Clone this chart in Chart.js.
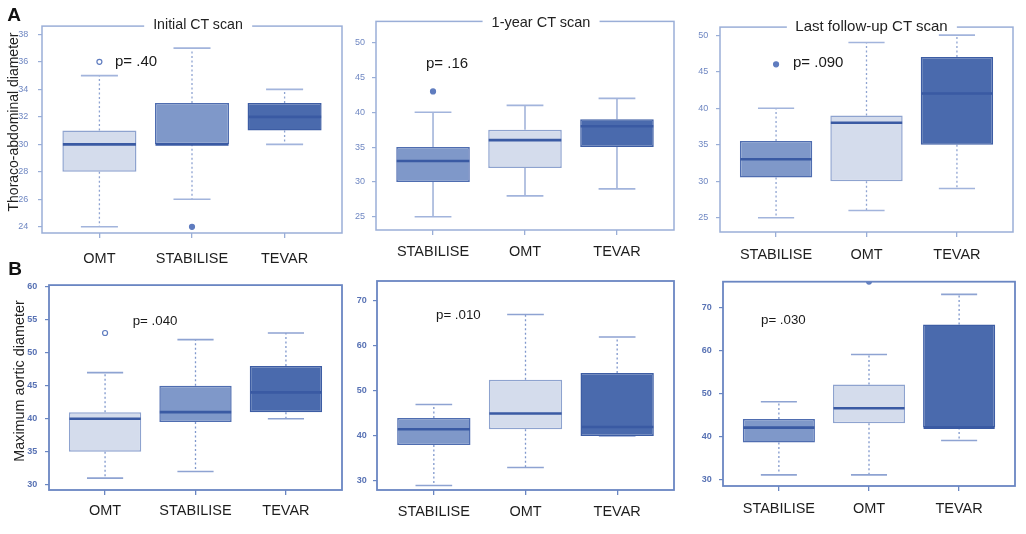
<!DOCTYPE html>
<html>
<head>
<meta charset="utf-8">
<script src="https://cdn.jsdelivr.net/npm/chart.js@4.4.1/dist/chart.umd.min.js"></script>
<style>
html,body{margin:0;padding:0;background:#fff;}
body{width:1026px;height:534px;position:relative;overflow:hidden;font-family:"Liberation Sans",Arial,sans-serif;}
canvas{position:absolute;z-index:1;}
.t{position:absolute;line-height:1;white-space:nowrap;z-index:2;}
.title{transform:translate(-50%,-50%);background:#fff;padding:0 9px;color:#222;}
.p{transform:translate(0,-50%);color:#1a1a1a;}
.lab{transform:translate(-50%,-50%);font-weight:bold;font-size:19px;color:#111;}
.ytitle{transform:translate(-50%,-50%) rotate(-90deg);color:#222;}
</style>
</head>
<body>
<script>
// ---------------- DATA ----------------
const P1_CATS  = ['OMT', 'STABILISE', 'TEVAR'];
const P1_LOW   = [24, 26, 30];
const P1_Q1    = [28, 30, 31];
const P1_MED   = [30, 30, 32];
const P1_Q3    = [31, 33, 33];
const P1_HIGH  = [35, 37, 34];
const P1_OUT   = [[36], [24], []];
const P1_TICKS = [24, 26, 28, 30, 32, 34, 36, 38];

const P2_CATS  = ['STABILISE', 'OMT', 'TEVAR'];
const P2_LOW   = [25, 28, 29];
const P2_Q1    = [30, 32, 35];
const P2_MED   = [33, 36, 38];
const P2_Q3    = [35, 37.5, 39];
const P2_HIGH  = [40, 41, 42];
const P2_OUT   = [[43], [], []];
const P2_TICKS = [25, 30, 35, 40, 45, 50];

const P3_CATS  = ['STABILISE', 'OMT', 'TEVAR'];
const P3_LOW   = [25, 26, 29];
const P3_Q1    = [30.5, 30, 35];
const P3_MED   = [33, 38, 42];
const P3_Q3    = [35.5, 39, 47];
const P3_HIGH  = [40, 49, 50];
const P3_OUT   = [[46], [], []];
const P3_TICKS = [25, 30, 35, 40, 45, 50];

const P4_CATS  = ['OMT', 'STABILISE', 'TEVAR'];
const P4_LOW   = [31, 32, 40];
const P4_Q1    = [35, 39.5, 41];
const P4_MED   = [40, 41, 44];
const P4_Q3    = [41, 45, 48];
const P4_HIGH  = [47, 52, 53];
const P4_OUT   = [[53], [], []];
const P4_TICKS = [30, 35, 40, 45, 50, 55, 60];

const P5_CATS  = ['STABILISE', 'OMT', 'TEVAR'];
const P5_LOW   = [29, 33, 40];
const P5_Q1    = [38, 41.5, 40];
const P5_MED   = [41.5, 45, 42];
const P5_Q3    = [44, 52.5, 54];
const P5_HIGH  = [47, 67, 62];
const P5_OUT   = [[], [], []];
const P5_TICKS = [30, 40, 50, 60, 70];

const P6_CATS  = ['STABILISE', 'OMT', 'TEVAR'];
const P6_LOW   = [31, 31, 39];
const P6_Q1    = [38.5, 43, 42];
const P6_MED   = [42, 46.5, 42];
const P6_Q3    = [44, 52, 66];
const P6_HIGH  = [48, 59, 73];
const P6_OUT   = [[], [76], []];
const P6_TICKS = [30, 40, 50, 60, 70];

const TITLES  = ['Initial CT scan', '1-year CT scan', 'Last follow-up CT scan'];
const PVALUES = ['p= .40', 'p= .16', 'p= .090', 'p= .040', 'p= .010', 'p= .030'];
const YTITLES = ['Thoraco-abdominal diameter', 'Maximum aortic diameter'];
const LETTERS = ['A', 'B'];

// ---------------- STYLE / LAYOUT ----------------
const FONT = '"Liberation Sans", Arial, sans-serif';
const FILL = {OMT: '#d4dcec', STABILISE: '#7f98c9', TEVAR: '#4a6aad'};
const EDGE = {OMT: '#8ea3cf', STABILISE: '#4f6db0', TEVAR: '#3d5da4'};
const MEDIAN_COLOR = '#3a5aa3';

const panels = [
  {cats:P1_CATS, low:P1_LOW, q1:P1_Q1, med:P1_MED, q3:P1_Q3, high:P1_HIGH, out:P1_OUT, ticks:P1_TICKS,
   L:42, T:23, R:342, B:233, yMin:23.55, yMax:38.6, dashed:true, xPad:11.8, yPad:9.7, hollow:[true,false,false], row:0},
  {cats:P2_CATS, low:P2_LOW, q1:P2_Q1, med:P2_MED, q3:P2_Q3, high:P2_HIGH, out:P2_OUT, ticks:P2_TICKS,
   L:376, T:21, R:674, B:230, yMin:23.1, yMax:53.05, dashed:false, xPad:8.3, yPad:7, hollow:[false,false,false], row:0},
  {cats:P3_CATS, low:P3_LOW, q1:P3_Q1, med:P3_MED, q3:P3_Q3, high:P3_HIGH, out:P3_OUT, ticks:P3_TICKS,
   L:720, T:26, R:1013, B:232, yMin:23.05, yMax:51.1, dashed:true, xPad:9, yPad:7.7, hollow:[false,false,false], row:0},
  {cats:P4_CATS, low:P4_LOW, q1:P4_Q1, med:P4_MED, q3:P4_Q3, high:P4_HIGH, out:P4_OUT, ticks:P4_TICKS,
   L:49, T:284, R:342, B:490, yMin:29.2, yMax:60.26, dashed:true, xPad:7.3, yPad:7.7, hollow:[true,false,false], row:1},
  {cats:P5_CATS, low:P5_LOW, q1:P5_Q1, med:P5_MED, q3:P5_Q3, high:P5_HIGH, out:P5_OUT, ticks:P5_TICKS,
   L:377, T:281, R:674, B:490, yMin:28, yMax:74.44, dashed:true, xPad:7.8, yPad:6.3, hollow:[false,false,false], row:1},
  {cats:P6_CATS, low:P6_LOW, q1:P6_Q1, med:P6_MED, q3:P6_Q3, high:P6_HIGH, out:P6_OUT, ticks:P6_TICKS,
   L:723, T:281, R:1015, B:486, yMin:28.4, yMax:75.96, dashed:true, xPad:9.3, yPad:7.3, hollow:[false,false,false], row:1}
];

const ROWSTYLE = [
  {frame:'#9aaed7', frameW:1.5, tickCol:'#9aaed7', tickLabel:'#6f87c2', tickWeight:'normal', whisker:'#8ea3d1', cap:'#a2b4dc'},
  {frame:'#6a86c2', frameW:1.8, tickCol:'#6a86c2', tickLabel:'#5872b4', tickWeight:'bold', whisker:'#7f97cc', cap:'#8ea3d2'}
];

const AXW = 40, AXH = 40, PADT = 12, PADR = 8;

function boxParts(d, st){
  return {
    id: 'boxparts',
    beforeDatasetsDraw(chart){
      const ctx = chart.ctx, x = chart.scales.x, y = chart.scales.y;
      const meta = chart.getDatasetMeta(0);
      ctx.save();
      d.cats.forEach((c, i) => {
        const px = x.getPixelForValue(i + 1);
        const w = meta.data[i].width;
        const yl = y.getPixelForValue(d.low[i]), yh = y.getPixelForValue(d.high[i]);
        const y1 = y.getPixelForValue(d.q1[i]), y3 = y.getPixelForValue(d.q3[i]);
        ctx.strokeStyle = st.whisker; ctx.lineWidth = 1.3;
        ctx.setLineDash(d.dashed ? [2, 2.5] : []);
        ctx.beginPath();
        ctx.moveTo(px, y3); ctx.lineTo(px, yh);
        ctx.moveTo(px, y1); ctx.lineTo(px, yl);
        ctx.stroke();
        ctx.setLineDash([]);
        ctx.strokeStyle = st.cap; ctx.lineWidth = 1.6;
        ctx.beginPath();
        ctx.moveTo(px - w / 4, yh); ctx.lineTo(px + w / 4, yh);
        ctx.moveTo(px - w / 4, yl); ctx.lineTo(px + w / 4, yl);
        ctx.stroke();
      });
      ctx.restore();
    },
    afterDatasetsDraw(chart){
      const ctx = chart.ctx, x = chart.scales.x, y = chart.scales.y;
      const meta = chart.getDatasetMeta(0);
      ctx.save();
      ctx.strokeStyle = MEDIAN_COLOR; ctx.lineWidth = 2.6;
      d.cats.forEach((c, i) => {
        const px = x.getPixelForValue(i + 1);
        const w = meta.data[i].width;
        const ym = y.getPixelForValue(d.med[i]);
        ctx.beginPath(); ctx.moveTo(px - w / 2 + 0.5, ym); ctx.lineTo(px + w / 2 - 0.5, ym); ctx.stroke();
      });
      ctx.restore();
    },
    afterDraw(chart){
      const ctx = chart.ctx, a = chart.chartArea;
      ctx.save();
      ctx.strokeStyle = st.frame; ctx.lineWidth = st.frameW;
      ctx.strokeRect(a.left, a.top, a.right - a.left, a.bottom - a.top);
      ctx.restore();
    }
  };
}

panels.forEach((d, k) => {
  const st = ROWSTYLE[d.row];
  const cv = document.createElement('canvas');
  const W = d.R - d.L + AXW + PADR, H = d.B - d.T + PADT + AXH;
  cv.width = W; cv.height = H;
  cv.style.left = (d.L - AXW) + 'px'; cv.style.top = (d.T - PADT) + 'px';
  cv.style.width = W + 'px'; cv.style.height = H + 'px';
  document.body.appendChild(cv);

  const pts = [], pbg = [];
  d.out.forEach((arr, i) => arr.forEach(v => {
    pts.push({x: i + 1, y: v});
    pbg.push(d.hollow[i] ? '#ffffff' : '#5f7cbf');
  }));

  new Chart(cv, {
    type: 'bar',
    data: {
      datasets: [
        {
          type: 'bar',
          data: d.cats.map((c, i) => ({x: i + 1, y: [d.q1[i], d.q3[i]]})),
          backgroundColor: d.cats.map(c => FILL[c]),
          borderColor: d.cats.map(c => EDGE[c]),
          borderWidth: 1.5,
          borderSkipped: false,
          barPercentage: 0.8,
          categoryPercentage: 1,
          order: 1
        },
        {
          type: 'scatter',
          data: pts,
          pointRadius: 2.5,
          pointBackgroundColor: pbg,
          pointBorderColor: '#5f7cbf',
          pointBorderWidth: 1.2,
          clip: 0,
          order: 0
        }
      ]
    },
    options: {
      responsive: false,
      animation: false,
      events: [],
      layout: {padding: {top: PADT, right: PADR, left: 0, bottom: 0}},
      plugins: {legend: {display: false}, tooltip: {enabled: false}, title: {display: false}},
      scales: {
        x: {
          type: 'linear', min: 0.38, max: 3.62, bounds: 'data', offset: false,
          afterBuildTicks: s => { s.ticks = d.cats.map((c, i) => ({value: i + 1})); },
          afterFit: s => { s.height = AXH; },
          ticks: {
            callback: (v, i) => d.cats[i],
            font: {family: FONT, size: 14.5}, color: '#1e1e1e',
            padding: d.xPad, maxRotation: 0, minRotation: 0, autoSkip: false
          },
          grid: {offset: false, drawOnChartArea: false, drawTicks: true, tickLength: 5, color: st.tickCol, lineWidth: 1.3},
          border: {display: false}
        },
        y: {
          type: 'linear', min: d.yMin, max: d.yMax, bounds: 'data',
          afterBuildTicks: s => { s.ticks = d.ticks.map(v => ({value: v})); },
          afterFit: s => { s.width = AXW; },
          ticks: {
            callback: v => String(v),
            font: {family: FONT, size: 9, weight: st.tickWeight}, color: st.tickLabel,
            padding: d.yPad
          },
          grid: {offset: false, drawOnChartArea: false, drawTicks: true, tickLength: 4, color: st.tickCol, lineWidth: 1.2},
          border: {display: false}
        }
      }
    },
    plugins: [boxParts(d, st)]
  });
});

// ---------------- TEXT OVERLAYS ----------------
function addText(cls, text, x, y, size){
  const el = document.createElement('div');
  el.className = 't ' + cls;
  el.textContent = text;
  el.style.left = x + 'px'; el.style.top = y + 'px';
  if (size) el.style.fontSize = size + 'px';
  document.body.appendChild(el);
}
const TITLE_POS = [[198, 24, 14.2], [541, 22, 14.5], [871.5, 25, 15]];
TITLES.forEach((t, i) => addText('title', t, TITLE_POS[i][0], TITLE_POS[i][1], TITLE_POS[i][2]));
const P_POS = [[115, 60, 15], [426, 61.7, 15], [793, 61.3, 15], [132.7, 321, 13.3], [436, 314.7, 13.3], [761, 319.7, 13.3]];
PVALUES.forEach((t, i) => addText('p', t, P_POS[i][0], P_POS[i][1], P_POS[i][2]));
const YT_POS = [[13.3, 122, 14], [19, 381, 14.4]];
YTITLES.forEach((t, i) => addText('ytitle', t, YT_POS[i][0], YT_POS[i][1], YT_POS[i][2]));
const L_POS = [[14, 13.5], [15, 268.3]];
LETTERS.forEach((t, i) => addText('lab', t, L_POS[i][0], L_POS[i][1]));
</script>
</body>
</html>
